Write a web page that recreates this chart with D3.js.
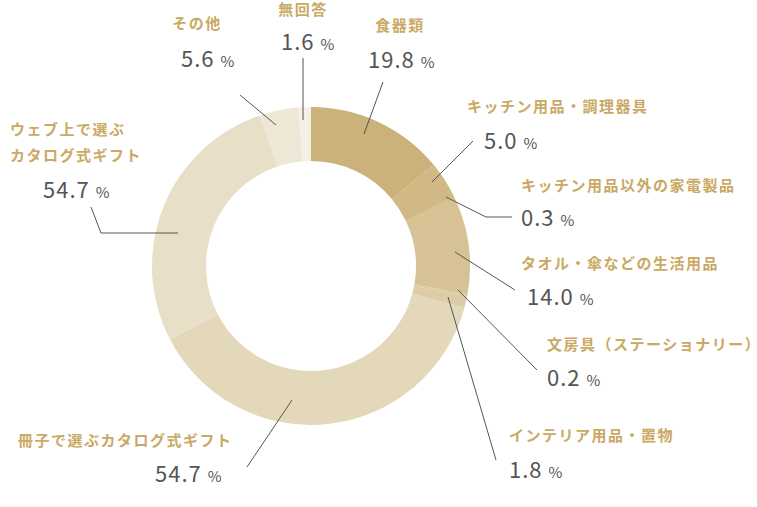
<!DOCTYPE html>
<html lang="ja">
<head>
<meta charset="UTF-8">
<script src="https://d3js.org/d3.v7.min.js"></script>
<style>
  body { margin: 0; background: #fff; }
  text { font-family: "Noto Sans CJK JP", "Noto Sans", sans-serif; }
</style>
</head>
<body>
<svg id="chart" width="757" height="507"></svg>
<script>
// categories, printed values, and slice shares as drawn in the picture
const categories = ["食器類", "キッチン用品・調理器具", "キッチン用品以外の家電製品", "タオル・傘などの生活用品",
  "文房具（ステーショナリー）", "インテリア用品・置物", "冊子で選ぶカタログ式ギフト",
  "ウェブ上で選ぶ\nカタログ式ギフト", "その他", "無回答"];
const printed = ["19.8", "5.0", "0.3", "14.0", "0.2", "1.8", "54.7", "54.7", "5.6", "1.6"];
const shares = [13.9, 3.8, 0.3, 9.6, 0.2, 1.2, 37.8, 27.2, 3.9, 1.25];
const colors = ["#cbb27a", "#d0b984", "#d3be8c", "#d6c294", "#dccaa2", "#ddcca6", "#e3d8b9", "#e8dfc8", "#efe7d6", "#f5f0e5"];

// label layout: [label x, label y, value x, value y, anchor, leader points]
const layout = [
  [400, 31, 368, 68, "middle", [[383, 82], [364, 134]]],
  [467, 112, 484, 149, "start", [[473, 141], [432, 182]]],
  [521, 191, 521, 226, "start", [[446, 197], [486, 217], [512, 217]]],
  [521, 269, 527, 305, "start", [[455, 252], [515, 290]]],
  [547, 350, 547, 386, "start", [[458, 290], [537, 370]]],
  [509, 441, 509, 478, "start", [[448, 297], [496, 460]]],
  [18, 446, 155, 482, "start", [[292, 400], [247, 467]]],
  [10, 135, 43, 198, "start", [[91, 207], [101, 233], [178, 233]]],
  [197, 29, 181, 67, "middle", [[240, 95], [276, 125]]],
  [303, 15, 281, 50, "middle", [[303, 58], [303, 120]]]
];

const svg = d3.select("#chart");
const cx = 311, cy = 266;

const pie = d3.pie().sort(null).value(d => d);
const arc = d3.arc().innerRadius(105).outerRadius(159);

svg.append("g")
  .attr("transform", `translate(${cx},${cy})`)
  .selectAll("path")
  .data(pie(shares))
  .enter().append("path")
  .attr("d", arc)
  .attr("fill", (d, i) => colors[i]);

const line = d3.line();
layout.forEach((l, i) => {
  svg.append("path")
    .attr("d", line(l[5]))
    .attr("fill", "none")
    .attr("stroke", "#555")
    .attr("stroke-width", 1);

  const lines = categories[i].split("\n");
  lines.forEach((t, j) => {
    svg.append("text")
      .attr("x", l[0])
      .attr("y", l[1] + j * 26)
      .attr("text-anchor", l[4])
      .attr("fill", "#c9a964")
      .style("font-size", "15px")
      .style("letter-spacing", "1.5px")
      .style("font-weight", "bold")
      .text(t);
  });

  const v = svg.append("text")
    .attr("x", l[2])
    .attr("y", l[3])
    .attr("fill", "#555")
    .style("letter-spacing", "1px")
    .style("font-size", "22px");
  v.append("tspan").text(printed[i] + " ");
  v.append("tspan").style("font-size", "15px").text("%");
});
</script>
</body>
</html>
